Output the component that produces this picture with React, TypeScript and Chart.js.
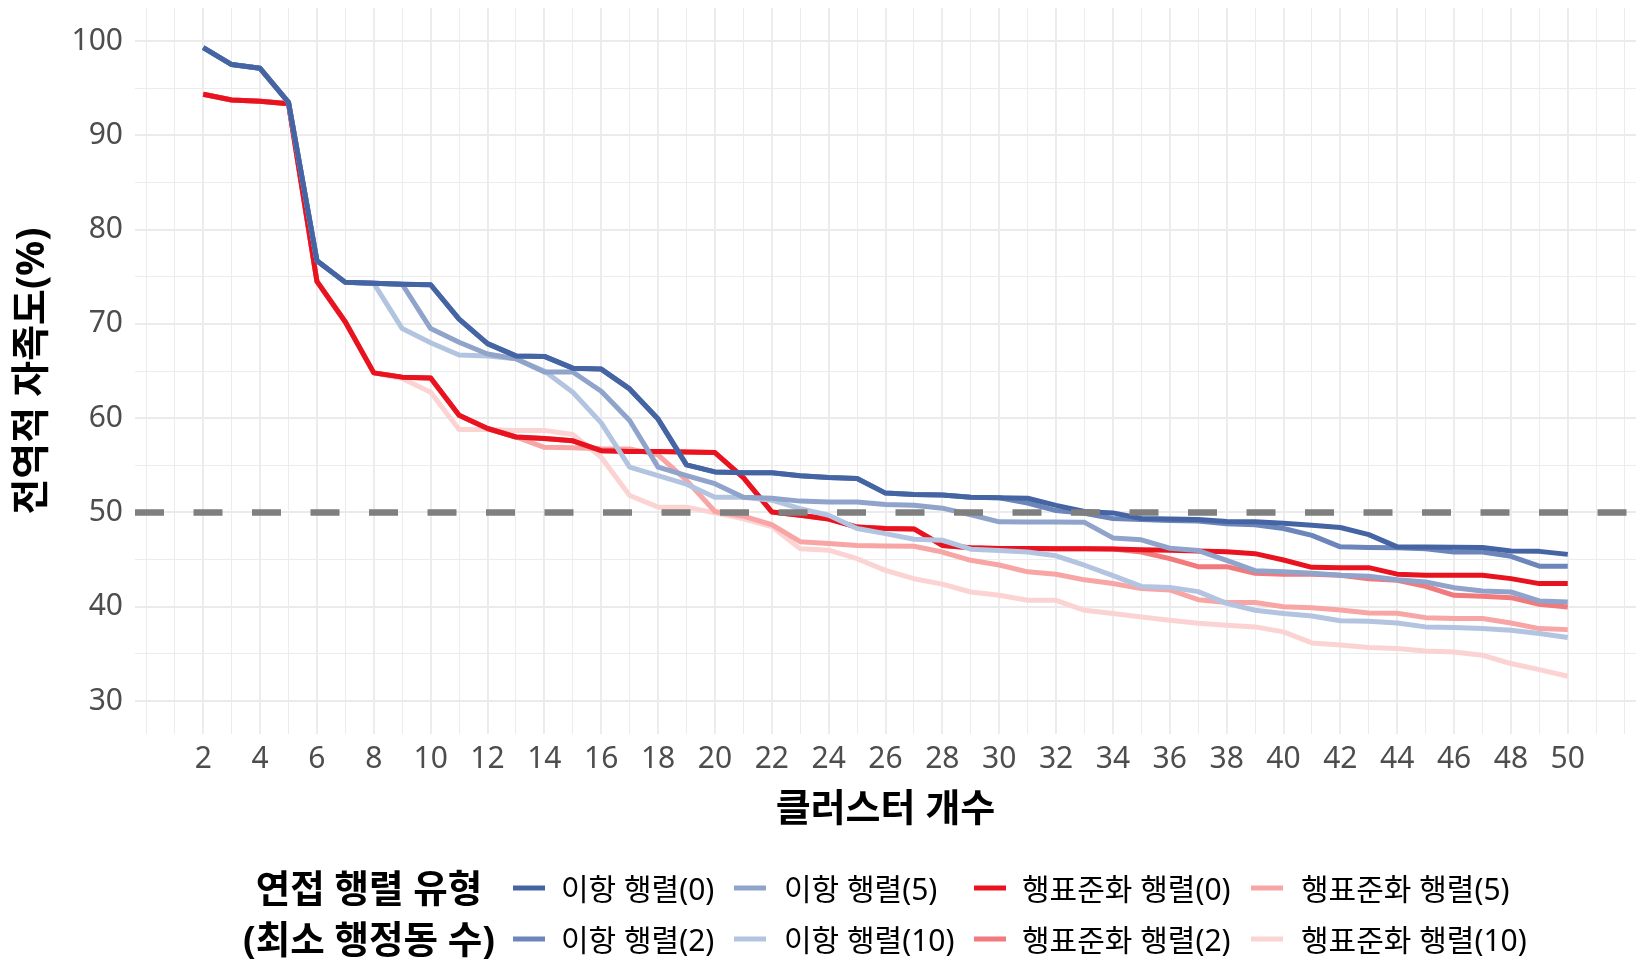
import { useEffect, useRef } from "react";
import { Chart, registerables } from "chart.js";

Chart.register(...registerables);

// 클러스터 개수 (x)
const clusterCounts = [
  2, 3, 4, 5, 6, 7, 8, 9, 10, 11, 12, 13, 14, 15, 16, 17, 18, 19, 20, 21, 22, 23, 24, 25, 26,
  27, 28, 29, 30, 31, 32, 33, 34, 35, 36, 37, 38, 39, 40, 41, 42, 43, 44, 45, 46, 47, 48, 49, 50,
];

const xTickLabels = [2, 4, 6, 8, 10, 12, 14, 16, 18, 20, 22, 24, 26, 28, 30, 32, 34, 36, 38, 40, 42, 44, 46, 48, 50];
const yTickLabels = [30, 40, 50, 60, 70, 80, 90, 100];

// 전역적 자족도(%) per series
const binary0 = [
  99.3, 97.5, 97.1, 93.5, 76.7, 74.4, 74.3, 74.2, 74.15,
  70.5, 67.9, 66.6, 66.55, 65.3, 65.2, 63.1, 59.9, 55.05, 54.3,
  54.2, 54.2, 53.9, 53.7, 53.6, 52.05, 51.9, 51.85, 51.6, 51.55,
  51.5, 50.75, 50.1, 49.95, 49.35, 49.3, 49.25, 49.05, 49.0, 48.85,
  48.65, 48.4, 47.65, 46.35, 46.33, 46.3, 46.28, 45.9, 45.87, 45.55,
];
const binary2 = [
  99.3, 97.5, 97.1, 93.5, 76.7, 74.4, 74.3, 74.2, 74.15,
  70.5, 67.9, 66.6, 66.55, 65.3, 65.2, 63.1, 59.9, 55.05, 54.3,
  54.2, 54.2, 53.9, 53.7, 53.6, 52.05, 51.9, 51.85, 51.6, 51.55,
  51.0, 50.2, 49.9, 49.35, 49.25, 49.15, 49.1, 48.8, 48.7, 48.3,
  47.57, 46.35, 46.28, 46.26, 46.15, 45.8, 45.8, 45.35, 44.3, 44.28,
];
const binary5 = [
  99.3, 97.5, 97.1, 93.5, 76.7, 74.4, 74.3, 74.2, 69.5,
  68.05, 66.8, 66.3, 64.9, 64.9, 62.85, 59.75, 54.8, 53.9, 53.05,
  51.6, 51.5, 51.2, 51.1, 51.1, 50.85, 50.75, 50.45, 49.75, 49.0,
  48.98, 48.98, 48.95, 47.3, 47.1, 46.2, 45.95, 44.92, 43.82, 43.7,
  43.55, 43.33, 43.22, 42.87, 42.62, 42.02, 41.67, 41.56, 40.61, 40.5,
];
const binary10 = [
  99.3, 97.5, 97.1, 93.5, 76.7, 74.4, 74.3, 69.5, 68.0,
  66.7, 66.6, 66.3, 65.0, 62.75, 59.5, 54.8, 53.9, 53.0, 51.6,
  51.6, 51.3, 50.4, 49.7, 48.3, 47.75, 47.15, 47.05, 46.1, 45.97,
  45.8, 45.4, 44.4, 43.3, 42.15, 42.05, 41.6, 40.35, 39.62, 39.27,
  39.02, 38.52, 38.45, 38.28, 37.86, 37.79, 37.68, 37.5, 37.15, 36.73,
];
const rowStd0 = [
  94.35, 93.75, 93.6, 93.35, 74.5, 70.2, 64.8, 64.35, 64.25,
  60.3, 58.9, 58.0, 57.85, 57.6, 56.55, 56.45, 56.45, 56.4, 56.35,
  53.7, 50.05, 49.7, 49.3, 48.45, 48.3, 48.25, 46.5, 46.25, 46.18,
  46.18, 46.15, 46.15, 46.12, 46.05, 45.98, 45.9, 45.82, 45.63, 44.95,
  44.18, 44.14, 44.14, 43.45, 43.35, 43.33, 43.33, 42.98, 42.45, 42.45,
];
const rowStd2 = [
  94.35, 93.75, 93.6, 93.35, 74.5, 70.2, 64.8, 64.35, 64.25,
  60.3, 58.9, 58.0, 57.85, 57.6, 56.55, 56.45, 56.45, 56.4, 56.35,
  53.7, 50.05, 49.7, 49.3, 48.45, 48.3, 48.25, 46.5, 46.25, 46.18,
  46.18, 46.15, 46.15, 46.12, 45.8, 45.1, 44.25, 44.25, 43.55, 43.45,
  43.45, 43.33, 42.97, 42.8, 42.16, 41.21, 41.1, 40.96, 40.26, 39.97,
];
const rowStd5 = [
  94.35, 93.75, 93.6, 93.35, 74.5, 70.2, 64.8, 64.35, 64.25,
  60.3, 58.9, 58.0, 56.9, 56.85, 56.75, 56.74, 56.1, 53.4, 50.1,
  49.6, 48.7, 46.9, 46.7, 46.5, 46.45, 46.42, 45.8, 44.92, 44.42,
  43.7, 43.45, 42.85, 42.47, 41.92, 41.78, 40.75, 40.45, 40.45, 40.0,
  39.88, 39.66, 39.34, 39.3, 38.84, 38.74, 38.74, 38.28, 37.68, 37.57,
];
const rowStd10 = [
  94.35, 93.75, 93.6, 93.35, 74.5, 70.2, 64.8, 64.2, 62.75,
  58.8, 58.8, 58.7, 58.7, 58.26, 55.86, 51.8, 50.56, 50.56, 49.95,
  49.33, 48.5, 46.15, 46.0, 45.09, 43.85, 42.97, 42.4, 41.56, 41.21,
  40.68, 40.68, 39.62, 39.27, 38.92, 38.56, 38.25, 38.03, 37.86, 37.33,
  36.16, 35.95, 35.67, 35.56, 35.31, 35.2, 34.85, 33.97, 33.33, 32.63,
];

const seriesNames = [
  "이항 행렬(0)", "이항 행렬(2)", "이항 행렬(5)", "이항 행렬(10)",
  "행표준화 행렬(0)", "행표준화 행렬(2)", "행표준화 행렬(5)", "행표준화 행렬(10)",
];
const seriesValues = [binary0, binary2, binary5, binary10, rowStd0, rowStd2, rowStd5, rowStd10];
const seriesColors = [
  "#4464A3", "#6C85BA", "#8FA3CB", "#B3C4E1",
  "#E8131F", "#F2797C", "#F8A5A5", "#FCD3D3",
];

const referenceLevel = 50;

const xTitle = "클러스터 개수";
const yTitle = "전역적 자족도(%)";
const legendTitle = ["연접 행렬 유형", "(최소 행정동 수)"];

const FONT = "'Noto Sans', 'Noto Sans CJK KR', sans-serif";
const W = 1649;
const H = 968;

const X_MIN = -0.4;
const X_MAX = 52.4;
const Y_MIN = 26.5;
const Y_MAX = 103.5;

// grid positions: every integer on x, every 5 on y
const gridX: number[] = [];
for (let v = 0; v <= 52; v++) gridX.push(v);
const gridY: number[] = [];
for (let v = 30; v <= 100; v += 5) gridY.push(v);

// legend layout: each column holds two series (top row, bottom row)
const legendColumns = [
  { keyX: 513, textX: 561, items: [0, 1] },
  { keyX: 734, textX: 784, items: [2, 3] },
  { keyX: 974, textX: 1022, items: [4, 5] },
  { keyX: 1251, textX: 1301, items: [6, 7] },
];
const legendRowsY = [888, 939];
const TEXT_DY = 3;
const KEY_LEN = 32;

const overlayPlugin = {
  id: "overlay",
  afterDatasetsDraw(chart: Chart) {
    const { ctx, chartArea } = chart;
    const y = chart.scales.y.getPixelForValue(referenceLevel);
    ctx.save();
    ctx.beginPath();
    ctx.rect(chartArea.left, chartArea.top, chartArea.right - chartArea.left, chartArea.bottom - chartArea.top);
    ctx.clip();
    ctx.strokeStyle = "#7F7F7F";
    ctx.lineWidth = 6.5;
    ctx.lineCap = "butt";
    ctx.setLineDash([29, 29.5]);
    ctx.beginPath();
    ctx.moveTo(chartArea.left, y);
    ctx.lineTo(chartArea.right, y);
    ctx.stroke();
    ctx.restore();
  },
  afterDraw(chart: Chart) {
    const { ctx, chartArea } = chart;
    ctx.save();
    ctx.fillStyle = "#000000";
    ctx.textAlign = "center";
    ctx.textBaseline = "middle";
    ctx.font = `bold 38px ${FONT}`;
    ctx.fillText(xTitle, (chartArea.left + chartArea.right) / 2, 810);

    ctx.save();
    ctx.translate(33, (chartArea.top + chartArea.bottom) / 2);
    ctx.rotate(-Math.PI / 2);
    ctx.font = `bold 39px ${FONT}`;
    ctx.fillText(yTitle, 0, 0);
    ctx.restore();

    ctx.font = `bold 37.5px ${FONT}`;
    ctx.fillText(legendTitle[0], 369, legendRowsY[0] + TEXT_DY);
    ctx.fillText(legendTitle[1], 369, legendRowsY[1] + TEXT_DY);

    ctx.font = `30px ${FONT}`;
    ctx.textAlign = "left";
    legendColumns.forEach((col) => {
      col.items.forEach((idx, row) => {
        const ly = legendRowsY[row];
        ctx.strokeStyle = seriesColors[idx];
        ctx.lineWidth = 5;
        ctx.lineCap = "butt";
        ctx.beginPath();
        ctx.moveTo(col.keyX, ly);
        ctx.lineTo(col.keyX + KEY_LEN, ly);
        ctx.stroke();
        ctx.fillStyle = "#000000";
        ctx.fillText(seriesNames[idx], col.textX, ly + TEXT_DY);
      });
    });
    ctx.restore();
  },
};

export default function App() {
  const canvasRef = useRef<HTMLCanvasElement>(null);

  useEffect(() => {
    document.body.style.margin = "0";
    const canvas = canvasRef.current;
    if (!canvas) return;

    const datasets = seriesValues.map((values, i) => ({
      label: seriesNames[i],
      data: values.map((v, j) => ({ x: clusterCounts[j], y: v })),
      borderColor: seriesColors[i],
      backgroundColor: seriesColors[i],
      borderWidth: 5,
      pointRadius: 0,
      tension: 0,
      fill: false,
      borderJoinStyle: "round" as const,
      borderCapStyle: "butt" as const,
    }));

    const chart = new Chart(canvas, {
      type: "line",
      data: { datasets },
      options: {
        animation: false,
        responsive: false,
        maintainAspectRatio: false,
        layout: { padding: { left: 0, right: 13, top: 8, bottom: 173 } },
        plugins: {
          legend: { display: false },
          tooltip: { enabled: false },
        },
        scales: {
          x: {
            type: "linear",
            min: X_MIN,
            max: X_MAX,
            afterBuildTicks: (scale: any) => {
              scale.ticks = gridX.map((v) => ({ value: v }));
            },
            afterFit: (scale: any) => {
              scale.height = 61;
              scale.paddingLeft = 0;
              scale.paddingRight = 0;
            },
            ticks: {
              autoSkip: false,
              maxRotation: 0,
              minRotation: 0,
              padding: 7,
              color: "#4D4D4D",
              font: { family: FONT, size: 30 },
              callback: (value: any) => (xTickLabels.includes(Number(value)) ? String(value) : ""),
            },
            grid: {
              drawTicks: false,
              color: "#EBEBEB",
              lineWidth: (ctx: any) => {
                const v = ctx.tick ? ctx.tick.value : 0;
                return xTickLabels.includes(v) ? 1.9 : 0.95;
              },
            },
            border: { display: false },
          },
          y: {
            type: "linear",
            min: Y_MIN,
            max: Y_MAX,
            afterBuildTicks: (scale: any) => {
              scale.ticks = gridY.map((v) => ({ value: v }));
            },
            afterFit: (scale: any) => {
              scale.width = 135;
              scale.paddingTop = 0;
              scale.paddingBottom = 0;
            },
            ticks: {
              autoSkip: false,
              padding: 12,
              color: "#4D4D4D",
              font: { family: FONT, size: 30 },
              callback: (value: any) => (yTickLabels.includes(Number(value)) ? String(value) : ""),
            },
            grid: {
              drawTicks: false,
              color: "#EBEBEB",
              lineWidth: (ctx: any) => {
                const v = ctx.tick ? ctx.tick.value : 0;
                return yTickLabels.includes(v) ? 1.9 : 0.95;
              },
            },
            border: { display: false },
          },
        },
      },
      plugins: [overlayPlugin],
    });

    return () => chart.destroy();
  }, []);

  return <canvas ref={canvasRef} width={W} height={H} style={{ display: "block" }} />;
}
